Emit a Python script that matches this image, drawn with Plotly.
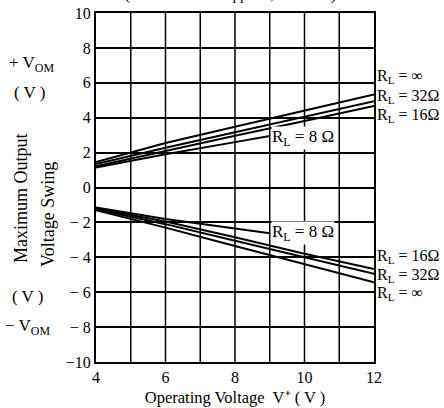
import plotly.graph_objects as go

# Data
x_full = [4, 6, 8, 10, 12]
x_8ohm = [4, 6, 8, 9]

pos_inf = [1.46, 2.55, 3.48, 4.41, 5.33]
pos_32 = [1.34, 2.28, 3.17, 4.06, 4.95]
pos_16 = [1.22, 2.1, 2.96, 3.81, 4.67]
pos_8 = [1.15, 1.9, 2.6, 2.95]

neg_inf = [-1.3, -2.3, -3.35, -4.4, -5.43]
neg_32 = [-1.25, -2.1, -3.05, -4.0, -4.95]
neg_16 = [-1.2, -1.95, -2.85, -3.8, -4.67]
neg_8 = [-1.15, -1.8, -2.35, -2.62]

x_tickvals = [4, 6, 8, 10, 12]
x_ticktext = ["4", "6", "8", "10", "12"]
y_tickvals = [-10, -8, -6, -4, -2, 0, 2, 4, 6, 8, 10]
y_ticktext = ["−10", "− 8", "− 6", "− 4", "− 2", "0", "2", "4", "6", "8", "10"]

FONT = "Liberation Serif, Times New Roman, serif"

fig = go.Figure()
line_style = dict(color="black", width=2)
for ys in [pos_inf, pos_32, pos_16, neg_inf, neg_32, neg_16]:
    fig.add_trace(go.Scatter(x=x_full, y=ys, mode="lines", line=line_style,
                             showlegend=False, hoverinfo="skip"))
for ys in [pos_8, neg_8]:
    fig.add_trace(go.Scatter(x=x_8ohm, y=ys, mode="lines", line=line_style,
                             showlegend=False, hoverinfo="skip"))

L, R, T, B = 96, 70, 13, 46
W, H = 444, 408
pw, ph = W - L - R, H - T - B

def px(xp):
    return (xp - L) / pw

def py(yp):
    return (H - B - yp) / ph

annotations = []
def ann(text, xp, yp, size=14, xanchor="center", angle=0, xref="paper", yref="paper", bg=None):
    d = dict(text=text, showarrow=False, font=dict(family=FONT, size=size, color="black"),
             xanchor=xanchor, yanchor="middle", textangle=angle)
    if xref == "paper":
        d["x"] = px(xp); d["xref"] = "paper"
    else:
        d["x"] = xp; d["xref"] = "x"
    if yref == "paper":
        d["y"] = py(yp); d["yref"] = "paper"
    else:
        d["y"] = yp; d["yref"] = "y"
    if bg:
        d["bgcolor"] = bg
    d["borderpad"] = 0
    annotations.append(d)

# Right side labels (value-positioned)
ann("R<sub>L</sub> = ∞", 376, 6.35, size=16, xanchor="left", yref="y")
ann("R<sub>L</sub> = 32Ω", 376, 5.2, size=16, xanchor="left", yref="y")
ann("R<sub>L</sub> = 16Ω", 376, 4.1, size=16, xanchor="left", yref="y")
ann("R<sub>L</sub> = 16Ω", 376, -3.95, size=16, xanchor="left", yref="y")
ann("R<sub>L</sub> = 32Ω", 376, -5.05, size=16, xanchor="left", yref="y")
ann("R<sub>L</sub> = ∞", 376, -6.1, size=16, xanchor="left", yref="y")

# 8 ohm labels inside plot
ann("R<sub>L</sub> = 8 Ω", 9.05, 2.85, size=17, xanchor="left", xref="x", yref="y", bg="white")
ann("R<sub>L</sub> = 8 Ω", 9.05, -2.6, size=17, xanchor="left", xref="x", yref="y", bg="white")

# Left side labels
ann("+ V<sub>OM</sub>", 31, 64, size=17)
ann("( V )", 30, 92, size=17)
ann("( V )", 28, 296, size=17)
ann("− V<sub>OM</sub>", 27, 327, size=17)
ann("Maximum Output", 21, 198, size=18, angle=-90)
ann("Voltage Swing", 48, 215, size=18, angle=-90)

# Top cut-off condition text
annotations.append(dict(text="(Both Channels Applied, f = 1kHz)", showarrow=False,
                        font=dict(family=FONT, size=15, color="black"),
                        x=px(230), xref="paper", y=py(-5), yref="paper",
                        xanchor="center", yanchor="middle"))

fig.update_layout(
    width=W, height=H,
    margin=dict(l=L, r=R, t=T, b=B, pad=0, autoexpand=False),
    paper_bgcolor="white", plot_bgcolor="white",
    font=dict(family=FONT, size=14, color="black"),
    annotations=annotations,
    showlegend=False,
)
fig.update_xaxes(
    range=[4, 12], tickvals=x_tickvals, ticktext=x_ticktext,
    showgrid=False, zeroline=False, automargin=False,
    showline=True, linecolor="black", linewidth=2, mirror=True,
    ticks="", tickfont=dict(family=FONT, size=16, color="black"),
    title=dict(text="Operating Voltage  V⁺ ( V )", font=dict(family=FONT, size=16.5), standoff=6),
)
fig.update_yaxes(
    range=[-10, 10], tickvals=y_tickvals, ticktext=y_ticktext,
    showgrid=True, gridcolor="black", gridwidth=1.5, zeroline=False, automargin=False,
    showline=True, linecolor="black", linewidth=2, mirror=True,
    ticks="", tickfont=dict(family=FONT, size=16, color="black"),
)
# vertical grid at every integer voltage
for v in range(5, 12):
    fig.add_vline(x=v, line=dict(color="black", width=1.5), layer="below")

fig.write_html("out.html", config={"displayModeBar": False},
               post_script="document.body.style.margin='0';document.body.style.overflow='hidden';")
